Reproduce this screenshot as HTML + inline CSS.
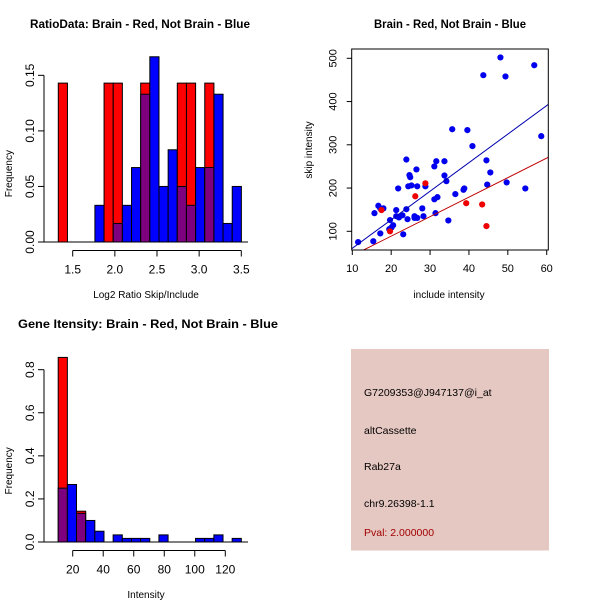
<!DOCTYPE html>
<html><head><meta charset="utf-8"><style>
html,body{margin:0;padding:0;background:#fff}
svg{display:block;font-family:"Liberation Sans",sans-serif}
</style></head><body>
<svg id="c" width="600" height="600" viewBox="0 0 600 600"></svg>
<script>
// ---- Panel 1: ratio histogram ----
const ratioBinStart = 1.329;
const ratioBinWidth = 0.1086;
const ratioRed  = [0.143,0,0,0,0,0.143,0.143,0,0,0.143,0,0,0,0.143,0.143,0,0.143,0,0,0];
const ratioBlue = [0,0,0,0,0.033,0,0.0167,0.033,0.067,0.133,0.1667,0.05,0.083,0.05,0.033,0.067,0.067,0.133,0.0167,0.05];
const ratioXTicks = [1.5,2.0,2.5,3.0,3.5];
const ratioXTickLabels = ["1.5","2.0","2.5","3.0","3.5"];
const ratioYTicks = [0,0.05,0.10,0.15];
const ratioYTickLabels = ["0.00","0.05","0.10","0.15"];
// ---- Panel 2: scatter ----
const blueX = [11.5,15.4,15.7,16.7,17.2,18,17.2,19.7,19.5,20.1,20.5,21.3,21.8,21.3,22,22.9,23.1,23.9,23.9,24.2,24.4,24.7,24.9,25.2,26,26,26.5,26.7,26.7,28,28.3,28.8,31.1,31.6,31.4,31.1,31.9,33.7,33.7,34.2,34.7,35.7,36.5,38.6,38.8,39.6,40.9,43.7,44.5,44.7,45.5,48.1,49.4,49.7,54.5,56.8,58.6];
const blueY = [75,77,142,159,153,153,95,126,105,109,114,149,199,135,132,137,93,266,151,128,204,230,225,206,131,135,243,204,131,153,135,204,250,262,142,174,179,262,229,216,125,336,186,196,199,334,297,461,264,208,236,502,458,213,199,484,320];
const redX = [17.5,19.7,26.2,28.8,39.3,43.4,44.5];
const redY = [149,100,181,211,165,162,112];
const blueFit = [-5.3, 6.6];   // intercept, slope
const redFit = [-1.4, 4.51];
const scatXTicks = [10,20,30,40,50,60];
const scatXTickLabels = ["10","20","30","40","50","60"];
const scatYTicks = [100,200,300,400,500];
const scatYTickLabels = ["100","200","300","400","500"];
// ---- Panel 3: intensity histogram ----
const intBinStart = 10.5;
const intBinWidth = 6;
const intRed  = [0.857,0,0.143,0,0,0,0,0,0,0,0,0,0,0,0,0,0,0,0,0];
const intBlue = [0.25,0.267,0.133,0.1,0.05,0,0.033,0.0167,0.0167,0.0167,0,0.033,0,0,0,0.0167,0.0167,0.033,0,0.0167];
const intXTicks = [20,40,60,80,100,120];
const intXTickLabels = ["20","40","60","80","100","120"];
const intYTicks = [0,0.2,0.4,0.6,0.8];
const intYTickLabels = ["0.0","0.2","0.4","0.6","0.8"];

const svg = document.getElementById('c');
const NS = 'http://www.w3.org/2000/svg';
function mk(tag, attrs, parent, text){
  const e = document.createElementNS(NS, tag);
  for (const k in attrs) e.setAttribute(k, attrs[k]);
  if (text !== undefined) e.textContent = text;
  (parent||svg).appendChild(e);
  return e;
}

function histogram(name, title, titleX, titleLen, xlab, ylab, start, width, red, blue, xt, xtl, yt, ytl, sx, sy, y0px, baseL, baseR, xAxisY, yAxisX, titleY, xlabY){
  const g = mk('g', {});
  
  
  const t = mk('text', {x:titleX, y:titleY, 'text-anchor':'middle', 'font-size':'12', 'font-weight':'bold', textLength:titleLen, lengthAdjust:'spacingAndGlyphs'}, g, title);
  
  
  for (let i=0;i<red.length;i++){
    const x0 = sx(start + i*width), x1 = sx(start + (i+1)*width);
    const r = red[i], b = blue[i];
    const hi = Math.max(r,b), lo = Math.min(r,b);
    if (hi <= 0) continue;
    const topCol = r >= b ? '#ff0000' : '#0000ff';
    const bar = mk('rect', {x:x0, y:sy(hi), width:x1-x0, height:sy(0)-sy(hi), fill:topCol, stroke:'#000', 'stroke-width':1}, g);
    
    
    if (lo > 0){
      const ov = mk('rect', {x:x0, y:sy(lo), width:x1-x0, height:sy(0)-sy(lo), fill:'#7f007f', stroke:'#000', 'stroke-width':1}, g);
      
      
    }
  }
  mk('line', {x1:baseL, y1:y0px, x2:baseR, y2:y0px, stroke:'#000'}, g);
  const xa = mk('g', {}, g);
  
  
  mk('line', {x1:sx(xt[0]), y1:xAxisY, x2:sx(xt[xt.length-1]), y2:xAxisY, stroke:'#000'}, xa);
  xt.forEach((v,i)=>{
    mk('line', {x1:sx(v), y1:xAxisY, x2:sx(v), y2:xAxisY+6, stroke:'#000'}, xa);
    mk('text', {x:sx(v), y:xAxisY+23, 'text-anchor':'middle', 'font-size':'12'}, xa, xtl[i]);
  });
  const xl = mk('text', {x:146, y:xlabY, 'text-anchor':'middle', 'font-size':'10'}, g, xlab);
  
  
  const ya = mk('g', {}, g);
  
  
  mk('line', {x1:yAxisX, y1:sy(yt[0]), x2:yAxisX, y2:sy(yt[yt.length-1]), stroke:'#000'}, ya);
  yt.forEach((v,i)=>{
    mk('line', {x1:yAxisX-6, y1:sy(v), x2:yAxisX, y2:sy(v), stroke:'#000'}, ya);
    mk('text', {x:yAxisX-10, y:sy(v), 'text-anchor':'middle', 'font-size':'12', transform:`rotate(-90 ${yAxisX-10} ${sy(v)})`}, ya, ytl[i]);
  });
  const ym = (sy(yt[0])+sy(yt[yt.length-1]))/2+15;
  const yl = mk('text', {x:12, y:ym, 'text-anchor':'middle', 'font-size':'10', transform:`rotate(-90 12 ${ym})`}, g, ylab);
  
  
}

histogram('ratio-histogram', 'RatioData: Brain - Red, Not Brain - Blue', 140, 220, 'Log2 Ratio Skip/Include', 'Frequency',
  ratioBinStart, ratioBinWidth, ratioRed, ratioBlue, ratioXTicks, ratioXTickLabels, ratioYTicks, ratioYTickLabels,
  v => 72.7 + (v-1.5)*84.3, v => 242 - v*1111.1, 242, 44, 248, 250.5, 44, 28, 298);

histogram('intensity-histogram', 'Gene Itensity: Brain - Red, Not Brain - Blue', 148, 260, 'Intensity', 'Frequency',
  intBinStart, intBinWidth, intRed, intBlue, intXTicks, intXTickLabels, intYTicks, intYTickLabels,
  v => 72.7 + (v-20)*1.526, v => 542 - v*215.4, 542, 44, 248, 550.5, 44, 328, 598);

(function(){
  const sx = v => 352.3 + (v-10)*3.888;
  const sy = v => 231.3 - (v-100)*0.4325;
  const L=351.7, R=548.3, T=49, B=250;
  const g = mk('g', {});
  
  
  const t = mk('text', {x:450, y:28, 'text-anchor':'middle', 'font-size':'12', 'font-weight':'bold', textLength:'152', lengthAdjust:'spacingAndGlyphs'}, g, 'Brain - Red, Not Brain - Blue');
  
  
  const defs = mk('defs', {}, g);
  const cp = mk('clipPath', {id:'clipS'}, defs);
  mk('rect', {x:L, y:T, width:R-L, height:B-T}, cp);
  const pts = mk('g', {'clip-path':'url(#clipS)'}, g);
  blueX.forEach((x,i)=>{
    const c = mk('circle', {cx:sx(x), cy:sy(blueY[i]), r:3.1, fill:'#0000ee'}, pts);
    
    
  });
  redX.forEach((x,i)=>{
    const c = mk('circle', {cx:sx(x), cy:sy(redY[i]), r:3.1, fill:'#ee0000'}, pts);
    
    
  });
  const fx0 = 5, fx1 = 65;
  const bl = mk('line', {x1:sx(fx0), y1:sy(blueFit[0]+blueFit[1]*fx0), x2:sx(fx1), y2:sy(blueFit[0]+blueFit[1]*fx1), stroke:'#0000b0', 'stroke-width':1}, pts);
  
  
  const rl = mk('line', {x1:sx(fx0), y1:sy(redFit[0]+redFit[1]*fx0), x2:sx(fx1), y2:sy(redFit[0]+redFit[1]*fx1), stroke:'#c00000', 'stroke-width':1}, pts);
  
  
  mk('rect', {x:L, y:T, width:R-L, height:B-T, fill:'none', stroke:'#000'}, g);
  const xa = mk('g', {}, g);
  
  
  scatXTicks.forEach((v,i)=>{
    mk('line', {x1:sx(v), y1:B, x2:sx(v), y2:B+5, stroke:'#000'}, xa);
    mk('text', {x:sx(v), y:B+22, 'text-anchor':'middle', 'font-size':'11'}, xa, scatXTickLabels[i]);
  });
  const ya = mk('g', {}, g);
  
  
  scatYTicks.forEach((v,i)=>{
    mk('line', {x1:L-5, y1:sy(v), x2:L, y2:sy(v), stroke:'#000'}, ya);
    mk('text', {x:L-15, y:sy(v), 'text-anchor':'middle', 'font-size':'11', transform:`rotate(-90 ${L-15} ${sy(v)})`}, ya, scatYTickLabels[i]);
  });
  const xl = mk('text', {x:449, y:298, 'text-anchor':'middle', 'font-size':'10'}, g, 'include intensity');
  
  
  const yl = mk('text', {x:312, y:150, 'text-anchor':'middle', 'font-size':'10', transform:'rotate(-90 312 150)'}, g, 'skip intensity');
  
  
})();

(function(){
  const g = mk('g', {});
  
  
  mk('rect', {x:351, y:349, width:198, height:201.5, fill:'#e6c8c2'}, g);
  const lines = [['G7209353@J947137@i_at',396,'#000','probe-id'],['altCassette',434,'#000','event-type'],['Rab27a',470,'#000','gene-name'],['chr9.26398-1.1',507,'#000','location'],['Pval: 2.000000',536,'#a00000','p-value']];
  lines.forEach(l=>{
    const t = mk('text', {x:364, y:l[1], 'font-size':'10.5', fill:l[2]}, g, l[0]);
    
    
  });
})();
</script>
</body></html>
